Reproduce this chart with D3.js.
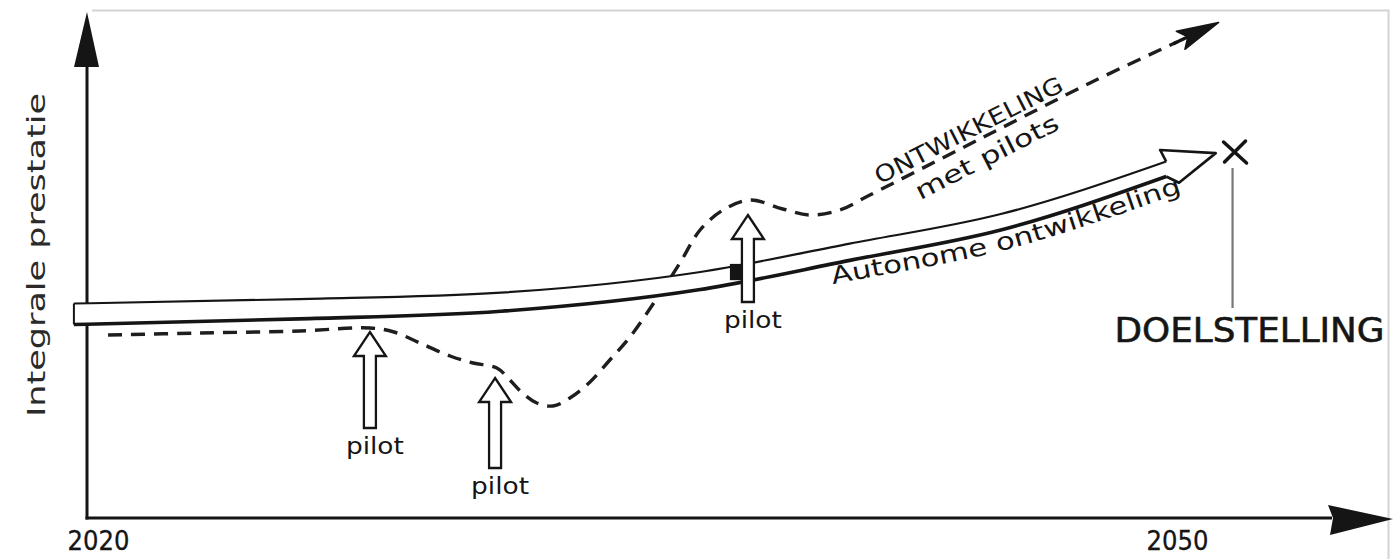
<!DOCTYPE html>
<html><head><meta charset="utf-8">
<script src="https://cdn.jsdelivr.net/npm/d3@7"></script>
<style>html,body{margin:0;padding:0;background:#fff}svg{display:block}</style>
</head><body><svg id="c" width="1393" height="559"></svg>
<script>
// ---------- data ----------
const tickYears = [2020, 2050];
const autoYears  = [2019.33, 2025.6, 2031.2, 2036.7, 2040.9, 2045.1, 2049.7];
const autoValues = [40.8, 41.8, 43.2, 47.4, 53.2, 59.2, 69.8];
const dashYears  = [2020.28, 2022.84, 2025.62, 2027.56, 2028.23, 2028.95, 2029.79, 2030.43, 2031.09, 2031.45, 2031.80, 2032.20, 2032.65, 2033.12, 2033.68, 2034.23, 2034.79, 2035.62, 2036.18, 2036.74, 2037.38, 2038.13, 2039.04, 2039.79, 2040.63, 2041.46, 2044.52, 2047.58, 2050.0];
const dashValues = [36.6, 37.0, 37.4, 38.0, 37.2, 35.0, 32.4, 31.0, 30.0, 27.6, 25.0, 23.0, 22.4, 24.0, 27.2, 31.6, 36.2, 44.8, 51.0, 57.6, 61.6, 63.6, 61.8, 60.6, 61.6, 64.6, 75.8, 87.0, 95.2];
const pilotYears   = [2027.56, 2031.04, 2038.07];
const pilotTops    = [37.2, 28.0, 60.6];
const pilotBottoms = [18.0, 10.0, 43.2];
const pilotLabels  = ["pilot", "pilot", "pilot"];
const targetYear = 2051.6, targetValue = 73.2, targetLineLow = 42.0;
const yAxisLabel = "Integrale prestatie";
const autoLabel = "Autonome ontwikkeling";
const pilotLine1 = "ONTWIKKELING", pilotLine2 = "met pilots";
const targetLabel = "DOELSTELLING";

// ---------- setup ----------
const svg = d3.select("#c");
const x = d3.scaleLinear().domain([2020, 2050]).range([98, 1177]);
const y = d3.scaleLinear().domain([0, 100]).range([518, 18]);
const ink = "#151515";
const font = "'DejaVu Sans', sans-serif";

// frame (light border of the scan)
svg.append("path").attr("d", "M92,10.5H1388.5V559").attr("fill", "none")
  .attr("stroke", "#d4d4d4").attr("stroke-width", 2);

// ---------- axes ----------
const x0 = 87, yBase = y(0);
svg.append("line").attr("x1", x0).attr("y1", yBase + 1.5).attr("x2", x0).attr("y2", 62)
  .attr("stroke", ink).attr("stroke-width", 3);
svg.append("path").attr("d", `M${x0},12 L${x0 + 12},67 L${x0 - 13},67 Z`).attr("fill", ink);
svg.append("line").attr("x1", x0 - 1.5).attr("y1", yBase).attr("x2", 1332).attr("y2", yBase)
  .attr("stroke", ink).attr("stroke-width", 3);
svg.append("path").attr("d", `M1393,${yBase + 1} L1328,${yBase - 13} L1333,${yBase} L1330,${yBase + 17} Z`).attr("fill", ink);

const xAxis = d3.axisBottom(x).tickValues(tickYears).tickFormat(d3.format("d")).tickSize(0);
const gx = svg.append("g").attr("transform", `translate(0,${yBase})`).call(xAxis);
gx.select(".domain").remove();
gx.selectAll("text").attr("dy", null).attr("y", 32)
  .attr("font-family", "'DejaVu Sans Condensed', 'DejaVu Sans', sans-serif")
  .attr("font-size", 27).attr("fill", ink).attr("stroke", ink).attr("stroke-width", 0.3);

svg.append("text").attr("transform", "translate(45,255) rotate(-90)")
  .attr("text-anchor", "middle").attr("font-family", font).attr("font-size", 25)
  .attr("textLength", 324).attr("lengthAdjust", "spacingAndGlyphs")
  .attr("fill", "#2a2a2a").text(yAxisLabel);

// ---------- dashed "met pilots" development ----------
const dashData = dashYears.map((t, i) => ({ t, v: dashValues[i] }));
const dashLine = d3.line().x(d => x(d.t)).y(d => y(d.v)).curve(d3.curveCatmullRom.alpha(0.5));
svg.append("path").attr("d", dashLine(dashData)).attr("fill", "none")
  .attr("stroke", "#1e1e1e").attr("stroke-width", 3.4).attr("stroke-dasharray", "14,9");
{
  const a = dashData[dashData.length - 2], b = dashData[dashData.length - 1];
  const ax = x(a.t), ay = y(a.v), bx = x(b.t), by = y(b.v);
  const L = Math.hypot(bx - ax, by - ay), dx = (bx - ax) / L, dy = (by - ay) / L;
  const nx = dy, ny = -dx;
  const base = [bx + dx * 4, by + dy * 4];
  const tip = [base[0] + dx * 42, base[1] + dy * 42];
  const w1 = [base[0] + nx * 10, base[1] + ny * 10];
  const w2 = [base[0] - nx * 10, base[1] - ny * 10];
  const back = [base[0] + dx * 8, base[1] + dy * 8];
  svg.append("path").attr("d", `M${tip} L${w1} L${back} L${w2} Z`).attr("fill", ink).attr("stroke", ink).attr("stroke-width", 1.5).attr("stroke-linejoin", "round");
  svg.append("line").attr("x1", bx - dx * 4).attr("y1", by - dy * 4).attr("x2", base[0] + dx * 10).attr("y2", base[1] + dy * 10)
    .attr("stroke", ink).attr("stroke-width", 3.4);

  // labels along the dashed line
  const p = dashData[dashData.length - 4], q = dashData[dashData.length - 2];
  const px = x(p.t), py = y(p.v), qx = x(q.t), qy = y(q.v);
  const ang = Math.atan2(qy - py, qx - px) * 180 / Math.PI;
  const mx = (px + qx) / 2, my = (py + qy) / 2;
  const g = svg.append("g").attr("transform", `translate(${mx},${my}) rotate(${ang})`);
  g.append("text").attr("x", -6).attr("y", -13).attr("dy", "0.35em").attr("text-anchor", "middle")
    .attr("font-family", font).attr("font-size", 23).attr("textLength", 208).attr("lengthAdjust", "spacingAndGlyphs")
    .attr("fill", ink).text(pilotLine1);
  g.append("text").attr("x", -2).attr("y", 19).attr("dy", "0.35em").attr("text-anchor", "middle")
    .attr("font-family", font).attr("font-size", 24).attr("textLength", 158).attr("lengthAdjust", "spacingAndGlyphs")
    .attr("fill", ink).text(pilotLine2);
}

// ---------- autonomous development band arrow ----------
const autoData = autoYears.map((t, i) => ({ t, v: autoValues[i] }));
const hw = d3.scaleLinear().domain([x(autoYears[0]), x(autoYears[autoYears.length - 1])]).range([10.5, 7.5]);
const curve = d3.curveMonotoneX;
const area = d3.area().x(d => x(d.t)).y0(d => y(d.v) + hw(x(d.t))).y1(d => y(d.v) - hw(x(d.t))).curve(curve);
const topLine = d3.line().x(d => x(d.t)).y(d => y(d.v) - hw(x(d.t))).curve(curve);
const botLine = d3.line().x(d => x(d.t)).y(d => y(d.v) + hw(x(d.t))).curve(curve);
const last = autoData[autoData.length - 1], prev = autoData[autoData.length - 2];
const Ex = x(last.t), Ey = y(last.v), Hw = hw(Ex);
let ddx = Ex - x(prev.t), ddy = Ey - y(prev.v); const dl = Math.hypot(ddx, ddy); ddx /= dl; ddy /= dl;
const nUx = ddy, nUy = -ddx; // normal pointing up
const headTop = [Ex + nUx * 20, Ey + nUy * 20];
const headBot = [Ex - nUx * 17 + ddx * 8, Ey - nUy * 17 + ddy * 8];
const headTip = [Ex + ddx * 52, Ey + ddy * 52];
svg.append("path").attr("d", area(autoData)).attr("fill", "#fff");
svg.append("path").attr("d", `M${Ex},${Ey - Hw} L${headTop} L${headTip} L${headBot} L${Ex},${Ey + Hw} Z`).attr("fill", "#fff");
svg.append("path").attr("d", topLine(autoData)).attr("fill", "none").attr("stroke", ink).attr("stroke-width", 2.2);
svg.append("path").attr("d", botLine(autoData)).attr("fill", "none").attr("stroke", ink).attr("stroke-width", 3.6);
svg.append("line").attr("x1", x(autoData[0].t)).attr("x2", x(autoData[0].t))
  .attr("y1", y(autoData[0].v) - hw(x(autoData[0].t))).attr("y2", y(autoData[0].v) + hw(x(autoData[0].t)))
  .attr("stroke", ink).attr("stroke-width", 2);
svg.append("path").attr("d", `M${Ex},${Ey - Hw} L${headTop} L${headTip} L${headBot} L${Ex},${Ey + Hw}`)
  .attr("fill", "none").attr("stroke", ink).attr("stroke-width", 2.6).attr("stroke-linejoin", "round");

// text along the band
{
  const tl = d3.line().x(d => x(d.t)).y(d => y(d.v) + 29).curve(curve);
  const dstr = tl(autoData) + `l${ddx * 80},${ddy * 80}`;
  const tp = svg.append("path").attr("id", "autoTP").attr("d", dstr).attr("fill", "none");
  const node = tp.node();
  let lo = 0, hi = node.getTotalLength();
  while (hi - lo > 0.5) { const m = (lo + hi) / 2; if (node.getPointAtLength(m).x < 833) lo = m; else hi = m; }
  svg.append("text").attr("font-family", font).attr("font-size", 24).attr("fill", ink)
    .append("textPath").attr("href", "#autoTP").attr("startOffset", lo)
    .attr("textLength", 362).attr("lengthAdjust", "spacingAndGlyphs").text(autoLabel);
}

// black block left of third pilot arrow
{
  const vAt = d3.scaleLinear().domain(autoYears).range(autoValues);
  const cx = x(pilotYears[2]);
  const v = vAt(pilotYears[2]);
  svg.append("rect").attr("x", cx - 18).attr("width", 12)
    .attr("y", y(v) - hw(cx) + 1).attr("height", 2 * hw(cx) - 1).attr("fill", ink);
}

// ---------- pilot arrows ----------
pilotYears.forEach((t, i) => {
  const cx = x(t), ty = y(pilotTops[i]), by = y(pilotBottoms[i]);
  const hh = 24, hwid = 16, sw = 6;
  svg.append("path")
    .attr("d", `M${cx},${ty} L${cx + hwid},${ty + hh} L${cx + sw},${ty + hh} L${cx + sw},${by} L${cx - sw},${by} L${cx - sw},${ty + hh} L${cx - hwid},${ty + hh} Z`)
    .attr("fill", "#fff").attr("stroke", ink).attr("stroke-width", 2.3).attr("stroke-linejoin", "miter");
  svg.append("text").attr("x", cx + 5).attr("y", by + 26).attr("text-anchor", "middle")
    .attr("font-family", font).attr("font-size", 23).attr("textLength", 58).attr("lengthAdjust", "spacingAndGlyphs")
    .attr("fill", ink).text(pilotLabels[i]);
});

// ---------- target ----------
{
  const tx = x(targetYear), ty = y(targetValue);
  svg.append("path").attr("d", `M${tx - 11},${ty - 10} L${tx + 12},${ty + 11} M${tx + 11},${ty - 11} L${tx - 10},${ty + 10}`)
    .attr("stroke", ink).attr("stroke-width", 3.5).attr("stroke-linecap", "round");
  svg.append("line").attr("x1", tx - 2).attr("x2", tx - 2).attr("y1", ty + 16).attr("y2", y(targetLineLow))
    .attr("stroke", "#777").attr("stroke-width", 2.2);
  svg.append("text").attr("x", tx + 15).attr("y", y(targetLineLow) + 34).attr("text-anchor", "middle")
    .attr("font-family", font).attr("font-size", 33).attr("textLength", 270).attr("lengthAdjust", "spacingAndGlyphs")
    .attr("fill", ink).attr("stroke", ink).attr("stroke-width", 0.6).text(targetLabel);
}
</script></body></html>
